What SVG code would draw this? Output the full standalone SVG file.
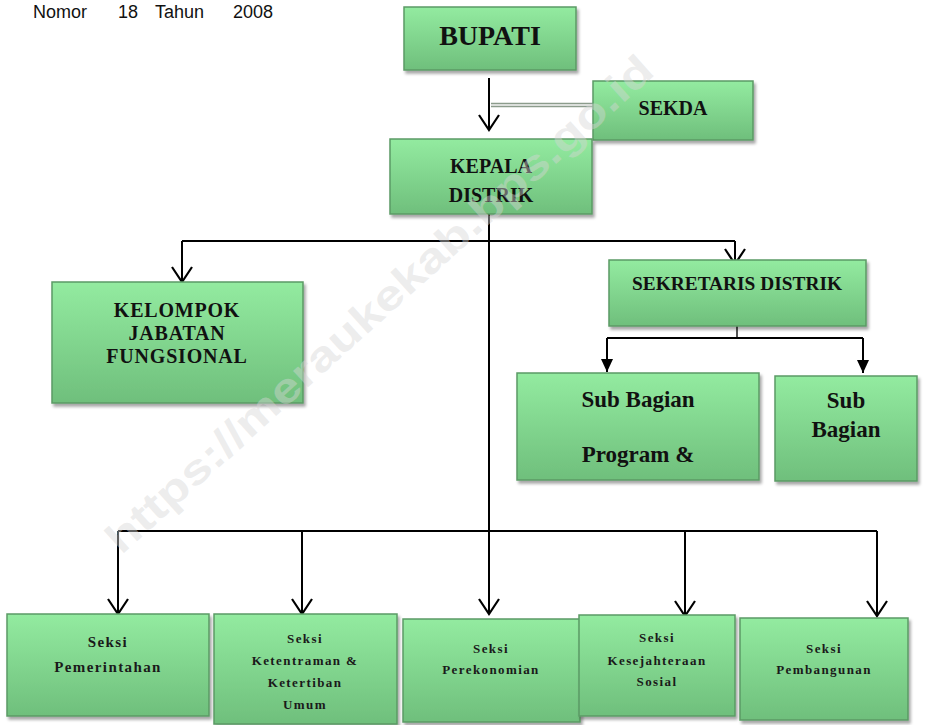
<svg xmlns="http://www.w3.org/2000/svg" width="950" height="725" viewBox="0 0 950 725">
<defs>
<linearGradient id="g" x1="0" y1="0" x2="0" y2="1">
<stop offset="0" stop-color="#93eba0"/>
<stop offset="1" stop-color="#6fbf7c"/>
</linearGradient>
<filter id="sh" x="-10%" y="-10%" width="130%" height="130%">
<feDropShadow dx="2" dy="3" stdDeviation="1.5" flood-color="#000" flood-opacity="0.35"/>
</filter>
<marker id="open" viewBox="0 0 18 22" refX="16" refY="11" markerWidth="18" markerHeight="22" markerUnits="userSpaceOnUse" orient="auto">
<path d="M1,1 L16,11 L1,21" fill="none" stroke="#000" stroke-width="2.2"/>
</marker>
<marker id="solid" viewBox="0 0 14 14" refX="13" refY="7" markerWidth="14" markerHeight="14" markerUnits="userSpaceOnUse" orient="auto">
<path d="M0,1 L13,7 L0,13 Z" fill="#000"/>
</marker>
<style>
.box{fill:url(#g);stroke:#5b9a65;stroke-width:1.5;filter:url(#sh)}
.t{font-family:"Liberation Serif","DejaVu Serif",serif;font-weight:bold;fill:#111;text-anchor:middle}
.s{font-family:"Liberation Serif","DejaVu Serif",serif;font-weight:bold;fill:#1a1a1a;text-anchor:middle;letter-spacing:1.4px}
.c{fill:none;stroke:#000;stroke-width:2}
</style>
</defs>
<rect width="950" height="725" fill="#fff"/>

<text font-family="Liberation Sans, Arial, sans-serif" font-size="18" fill="#111" y="18"><tspan x="33">Nomor</tspan><tspan x="118">18</tspan><tspan x="155">Tahun</tspan><tspan x="233">2008</tspan></text>

<g id="connectors">
<path d="M491,105 H593" stroke="#8c9c8c" stroke-width="4.5" fill="none"/>
<path d="M491,105 H593" stroke="#f4f4f4" stroke-width="1.6" fill="none"/>
<path class="c" d="M489,78 V130" marker-end="url(#open)"/>
<path class="c" d="M489,214 V614" marker-end="url(#open)"/>
<path class="c" d="M182,241 H735"/>
<path class="c" d="M182,241 V282" marker-end="url(#open)"/>
<path class="c" d="M735,241 V264" marker-end="url(#open)"/>
<path class="c" d="M118,531 H877"/>
<path class="c" d="M118,531 V614" marker-end="url(#open)"/>
<path class="c" d="M302,531 V614" marker-end="url(#open)"/>
<path class="c" d="M685,531 V616" marker-end="url(#open)"/>
<path class="c" d="M877,531 V616" marker-end="url(#open)"/>
<path d="M737,326 V338" stroke="#555" stroke-width="2" fill="none"/>
<path class="c" d="M607,338 H863"/>
<path class="c" d="M607,338 V372" marker-end="url(#solid)"/>
<path class="c" d="M863,338 V373" marker-end="url(#solid)"/>
</g>

<g id="bupati">
<rect class="box" x="404" y="7" width="172" height="63"/>
<text class="t" x="490" y="45" font-size="28">BUPATI</text>
</g>
<g id="sekda">
<rect class="box" x="593" y="81" width="160" height="59"/>
<text class="t" x="673" y="115" font-size="20">SEKDA</text>
</g>
<g id="kepala-distrik">
<rect class="box" x="390" y="139" width="202" height="75"/>
<text class="t" x="491" y="173" font-size="20">KEPALA</text>
<text class="t" x="491" y="202" font-size="20">DISTRIK</text>
</g>
<g id="kelompok-jabatan-fungsional">
<rect class="box" x="52" y="282" width="251" height="121"/>
<text class="t" x="177" y="317" font-size="20" letter-spacing="0.8">KELOMPOK</text>
<text class="t" x="177" y="340" font-size="20" letter-spacing="0.8">JABATAN</text>
<text class="t" x="177" y="363" font-size="20" letter-spacing="0.8">FUNGSIONAL</text>
</g>
<g id="sekretaris-distrik">
<rect class="box" x="609" y="260" width="257" height="66"/>
<text class="t" x="737" y="290" font-size="18" textLength="210" lengthAdjust="spacingAndGlyphs">SEKRETARIS DISTRIK</text>
</g>
<g id="sub-bagian-program">
<rect class="box" x="517" y="373" width="242" height="107"/>
<text class="t" x="638" y="407" font-size="23">Sub Bagian</text>
<text class="t" x="638" y="462" font-size="23">Program &amp;</text>
</g>
<g id="sub-bagian">
<rect class="box" x="775" y="376" width="142" height="105"/>
<text class="t" x="846" y="408" font-size="23">Sub</text>
<text class="t" x="846" y="437" font-size="23">Bagian</text>
</g>
<g id="seksi-pemerintahan">
<rect class="box" x="7" y="614" width="202" height="102"/>
<text class="s" x="108" y="647" font-size="15">Seksi</text>
<text class="s" x="108" y="672" font-size="15">Pemerintahan</text>
</g>
<g id="seksi-ketentraman">
<rect class="box" x="214" y="614" width="183" height="110"/>
<text class="s" x="305" y="643" font-size="13">Seksi</text>
<text class="s" x="305" y="665" font-size="13">Ketentraman &amp;</text>
<text class="s" x="305" y="687" font-size="13">Ketertiban</text>
<text class="s" x="305" y="709" font-size="13">Umum</text>
</g>
<g id="seksi-perekonomian">
<rect class="box" x="403" y="619" width="177" height="103"/>
<text class="s" x="491" y="653" font-size="13">Seksi</text>
<text class="s" x="491" y="674" font-size="13">Perekonomian</text>
</g>
<g id="seksi-kesejahteraan-sosial">
<rect class="box" x="579" y="615" width="156" height="101"/>
<text class="s" x="657" y="642" font-size="13">Seksi</text>
<text class="s" x="657" y="665" font-size="13">Kesejahteraan</text>
<text class="s" x="657" y="686" font-size="13">Sosial</text>
</g>
<g id="seksi-pembangunan">
<rect class="box" x="740" y="618" width="168" height="102"/>
<text class="s" x="824" y="653" font-size="13">Seksi</text>
<text class="s" x="824" y="674" font-size="13">Pembangunan</text>
</g>

<text x="380" y="318" transform="rotate(-42 380 305)" font-family="Liberation Sans, Arial, sans-serif" font-weight="bold" font-size="42" fill="#d6d6d6" fill-opacity="0.45" text-anchor="middle" textLength="720" lengthAdjust="spacingAndGlyphs">https://meraukekab.bps.go.id</text>
</svg>
